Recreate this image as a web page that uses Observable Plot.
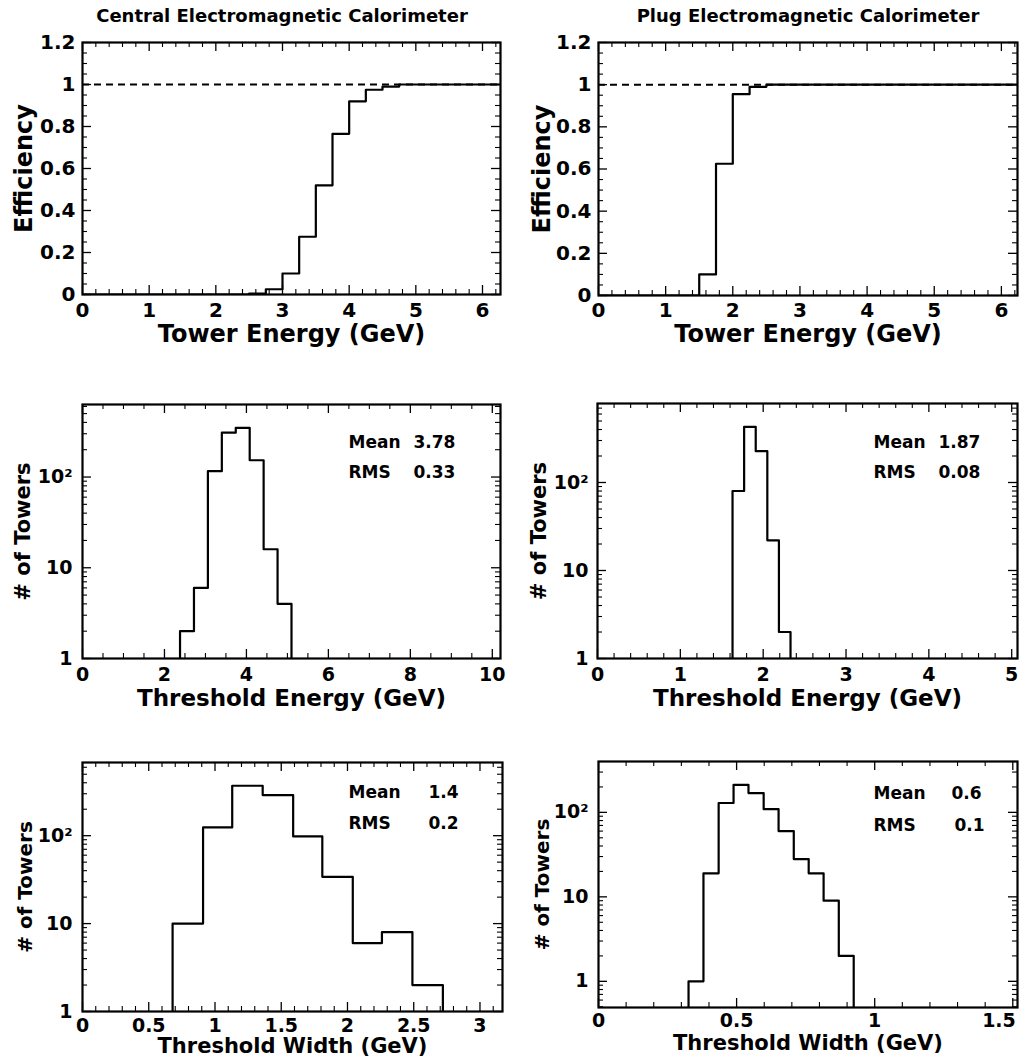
<!DOCTYPE html>
<html><head><meta charset="utf-8">
<script src="https://cdn.jsdelivr.net/npm/d3@7"></script>
<script src="https://cdn.jsdelivr.net/npm/@observablehq/plot@0.6"></script>
<style>
body{margin:0;background:#fff;}
#root{position:relative;width:1019px;height:1060px;overflow:hidden;font-family:"DejaVu Sans",sans-serif;font-weight:bold;color:#000;}
.panel{position:absolute;}
.title{position:absolute;font-size:18px;transform:translateX(-50%);white-space:nowrap;top:5px;line-height:22px;}
</style></head><body><div id="root"></div>
<script>
// ---- data ----
const columnTitles = ["Central Electromagnetic Calorimeter", "Plug Electromagnetic Calorimeter"];

const centralEffEdges = [0, 2.5, 2.75, 3.0, 3.25, 3.5, 3.75, 4.0, 4.25, 4.5, 4.75, 6.27];
const centralEffValues = [0, 0.004, 0.025, 0.10, 0.275, 0.52, 0.765, 0.92, 0.975, 0.99, 1.0];

const plugEffEdges = [0, 1.5, 1.75, 2.0, 2.25, 2.5, 6.24];
const plugEffValues = [0, 0.10, 0.625, 0.955, 0.99, 1.0];

const centralThrEdges = [2.38, 2.72, 3.06, 3.40, 3.74, 4.08, 4.42, 4.76, 5.10];
const centralThrCounts = [2, 6, 116, 308, 349, 153, 16, 4];

const plugThrEdges = [1.63, 1.77, 1.91, 2.05, 2.19, 2.33];
const plugThrCounts = [80, 429, 227, 22, 2];

const centralWidthEdges = [0.68, 0.91, 1.13, 1.36, 1.59, 1.81, 2.04, 2.26, 2.49, 2.72];
const centralWidthCounts = [10, 124, 370, 290, 98, 34, 6, 8, 2];

const plugWidthEdges = [0.326, 0.380, 0.435, 0.489, 0.543, 0.598, 0.652, 0.707, 0.761, 0.815, 0.870, 0.924];
const plugWidthCounts = [1, 19, 129, 212, 169, 109, 60, 28, 19, 9, 2];

const statNames = ["Mean", "RMS"];
const centralThrStats = ["3.78", "0.33"];
const plugThrStats = ["1.87", "0.08"];
const centralWidthStats = ["1.4", "0.2"];
const plugWidthStats = ["0.6", "0.1"];

const effTicks = [0, 0.2, 0.4, 0.6, 0.8, 1.0, 1.2];
const logTicks = [1, 10, 100];
const logTickLabels = ["1", "10", "10²"];
const towerEnergyTicks = [0, 1, 2, 3, 4, 5, 6];
const centralThrTicks = [0, 2, 4, 6, 8, 10];
const plugThrTicks = [0, 1, 2, 3, 4, 5];
const centralWidthTicks = [0, 0.5, 1, 1.5, 2, 2.5, 3];
const plugWidthTicks = [0, 0.5, 1, 1.5];

// ---- helpers ----
const fmtNum = d => String(+d.toFixed(2));
const fmtLog = d => logTickLabels[logTicks.indexOf(d)] ?? "";

function minorLin(lo, hi, step, majors) {
  const out = [];
  for (let v = lo; v <= hi + 1e-9; v += step) {
    const r = +v.toFixed(6);
    if (!majors.some(m => Math.abs(m - r) < 1e-6)) out.push(r);
  }
  return out;
}
function minorLog(lo, hi) {
  const out = [];
  for (let e = -1; e <= 3; e++) for (let k = 2; k <= 9; k++) {
    const v = k * Math.pow(10, e);
    if (v >= lo && v <= hi) out.push(v);
  }
  return out;
}
function stepPoints(edges, values, base, dropEnd) {
  const pts = [{x: edges[0], y: base}];
  values.forEach((v, i) => pts.push({x: edges[i], y: v}));
  pts.push({x: edges[edges.length - 1], y: dropEnd ? base : values[values.length - 1]});
  return pts;
}

const root = document.getElementById("root");
columnTitles.forEach((t, i) => {
  const d = document.createElement("div");
  d.className = "title";
  d.textContent = t;
  d.style.left = (i === 0 ? 282 : 808) + "px";
  root.appendChild(d);
});

function panel(c) {
  const [mt, mr, mb, ml] = c.margins;
  const fh = c.height - mt - mb, fw = c.width - ml - mr;
  const isLog = c.yType === "log";
  const yMinor = isLog ? minorLog(c.yDomain[0], c.yDomain[1]) : c.yMinor;
  const MJ = 9, MN = 5;
  const marks = [];
  if (c.dashed) marks.push(Plot.ruleY([1], {strokeDasharray: "7,5", strokeWidth: 2}));
  const xInner = c.xEdgeLabel ? c.xMajor.filter(d => d !== c.xEdgeLabel) : c.xMajor;
  marks.push(
    Plot.ruleX(c.xMajor, {x: d => d, insetTop: fh - MJ, strokeWidth: 1.3}),
    Plot.ruleX(c.xMajor, {x: d => d, insetBottom: fh - MJ, strokeWidth: 1.3}),
    Plot.ruleX(c.xMinor, {x: d => d, insetTop: fh - MN, strokeWidth: 1.1}),
    Plot.ruleX(c.xMinor, {x: d => d, insetBottom: fh - MN, strokeWidth: 1.1}),
    Plot.ruleY(c.yMajor, {y: d => d, insetRight: fw - MJ, strokeWidth: 1.3}),
    Plot.ruleY(c.yMajor, {y: d => d, insetLeft: fw - MJ, strokeWidth: 1.3}),
    Plot.ruleY(yMinor, {y: d => d, insetRight: fw - MN, strokeWidth: 1.1}),
    Plot.ruleY(yMinor, {y: d => d, insetLeft: fw - MN, strokeWidth: 1.1}),
    Plot.line(stepPoints(c.edges, c.values, c.yDomain[0], c.dropEnd),
      {x: "x", y: "y", curve: "step-after", strokeWidth: 2.2, clip: true}),
    Plot.frame({strokeWidth: 2.2}),
    Plot.axisX(xInner, {tickSize: 0, tickPadding: c.xPad, tickFormat: fmtNum, fontSize: c.tickFont, label: null}),
    Plot.axisY(c.yMajor, {tickSize: 0, tickPadding: c.yPad, tickFormat: isLog ? fmtLog : fmtNum, fontSize: c.tickFont, label: null}),
    Plot.text([c.xLabel], {frameAnchor: "bottom", dy: c.xLabelDy, textAnchor: "middle", lineAnchor: "middle", fontSize: c.xLabelSize}),
    Plot.text([c.yLabel], {frameAnchor: "left", dx: c.yLabelDx, rotate: -90, textAnchor: "middle", lineAnchor: "middle", fontSize: c.yLabelSize})
  );
  if (c.xEdgeLabel) {
    marks.push(Plot.axisX([c.xEdgeLabel], {tickSize: 0, tickPadding: c.xPad, tickFormat: fmtNum, fontSize: c.tickFont, label: null, textAnchor: "end", dx: 3}));
  }
  if (c.stats) {
    const [nx, vx, y1, y2] = c.statPos;
    statNames.forEach((n, i) => {
      const dy = i === 0 ? y1 : y2;
      marks.push(Plot.text([n], {frameAnchor: "top-left", dx: nx, dy, textAnchor: "start", lineAnchor: "middle", fontSize: 17}));
      marks.push(Plot.text([c.stats[i]], {frameAnchor: "top-left", dx: vx[i], dy, textAnchor: "start", lineAnchor: "middle", fontSize: 17}));
    });
  }
  const svg = Plot.plot({
    width: c.width, height: c.height,
    marginTop: mt, marginRight: mr, marginBottom: mb, marginLeft: ml,
    x: {domain: c.xDomain},
    y: {type: isLog ? "log" : "linear", domain: c.yDomain},
    style: {fontFamily: "'DejaVu Sans', sans-serif", fontWeight: "bold", color: "#000", background: "transparent", overflow: "visible"},
    marks
  });
  const wrap = document.createElement("div");
  wrap.className = "panel";
  wrap.style.left = c.left + "px";
  wrap.style.top = c.top + "px";
  wrap.appendChild(svg);
  root.appendChild(wrap);
}

// Top row: efficiency
panel({left: 0, top: 30, width: 510, height: 340, margins: [12, 10, 76, 82],
  xDomain: [0, 6.27], yDomain: [0, 1.2], yType: "linear",
  xMajor: towerEnergyTicks, xMinor: minorLin(0, 6.27, 0.2, towerEnergyTicks),
  yMajor: effTicks, yMinor: minorLin(0, 1.2, 0.05, effTicks),
  edges: centralEffEdges, values: centralEffValues, dropEnd: false, dashed: true,
  xLabel: "Tower Energy (GeV)", yLabel: "Efficiency", xLabelSize: 24, yLabelSize: 24,
  xLabelDy: 40, yLabelDx: -58, tickFont: 20, xPad: 8, yPad: 7});

panel({left: 510, top: 30, width: 509, height: 340, margins: [12, 2, 75, 88],
  xDomain: [0, 6.24], yDomain: [0, 1.2], yType: "linear",
  xMajor: towerEnergyTicks, xMinor: minorLin(0, 6.24, 0.2, towerEnergyTicks),
  yMajor: effTicks, yMinor: minorLin(0, 1.2, 0.05, effTicks),
  edges: plugEffEdges, values: plugEffValues, dropEnd: false, dashed: true,
  xLabel: "Tower Energy (GeV)", yLabel: "Efficiency", xLabelSize: 24, yLabelSize: 24,
  xLabelDy: 39, yLabelDx: -56, tickFont: 20, xPad: 7, yPad: 7});

// Middle row: threshold energy
panel({left: 0, top: 390, width: 510, height: 330, margins: [14, 10, 62, 82],
  xDomain: [0, 10.2], yDomain: [1, 630], yType: "log",
  xMajor: centralThrTicks, xMinor: minorLin(0, 10.2, 0.5, centralThrTicks),
  yMajor: logTicks,
  edges: centralThrEdges, values: centralThrCounts, dropEnd: true,
  stats: centralThrStats, statPos: [266, [331, 331], 38, 68],
  xLabel: "Threshold Energy (GeV)", yLabel: "# of Towers", xLabelSize: 23, yLabelSize: 21,
  xLabelDy: 40, yLabelDx: -59, tickFont: 19, xPad: 9, yPad: 10});

panel({left: 510, top: 390, width: 509, height: 330, margins: [13, 2, 62, 87],
  xDomain: [0, 5.07], yDomain: [1, 790], yType: "log",
  xMajor: plugThrTicks, xMinor: minorLin(0, 5.07, 0.2, plugThrTicks),
  yMajor: logTicks,
  edges: plugThrEdges, values: plugThrCounts, dropEnd: true,
  stats: plugThrStats, statPos: [276, [341, 341], 39, 69],
  xLabel: "Threshold Energy (GeV)", yLabel: "# of Towers", xLabelSize: 23, yLabelSize: 21,
  xLabelDy: 40, yLabelDx: -58, tickFont: 19, xPad: 9, yPad: 9});

// Bottom row: threshold width
panel({left: 0, top: 750, width: 510, height: 310, margins: [12, 8, 49, 82],
  xDomain: [0, 3.17], yDomain: [1, 680], yType: "log",
  xMajor: centralWidthTicks, xMinor: minorLin(0, 3.17, 0.1, centralWidthTicks),
  yMajor: logTicks,
  edges: centralWidthEdges, values: centralWidthCounts, dropEnd: true,
  stats: centralWidthStats, statPos: [266, [346, 346], 30, 61],
  xLabel: "Threshold Width (GeV)", yLabel: "# of Towers", xLabelSize: 21, yLabelSize: 20,
  xLabelDy: 35, yLabelDx: -57, tickFont: 19, xPad: 7, yPad: 10});

panel({left: 510, top: 750, width: 509, height: 310, margins: [11, 2, 53, 88],
  xDomain: [0, 1.517], yDomain: [0.49, 400], yType: "log",
  xMajor: plugWidthTicks, xMinor: minorLin(0, 1.517, 0.1, plugWidthTicks),
  yMajor: logTicks, xEdgeLabel: 1.5,
  edges: plugWidthEdges, values: plugWidthCounts, dropEnd: true,
  stats: plugWidthStats, statPos: [275, [353, 356], 32, 64],
  xLabel: "Threshold Width (GeV)", yLabel: "# of Towers", xLabelSize: 21, yLabelSize: 20,
  xLabelDy: 36, yLabelDx: -56, tickFont: 19, xPad: 6, yPad: 10});
</script>
</body></html>
